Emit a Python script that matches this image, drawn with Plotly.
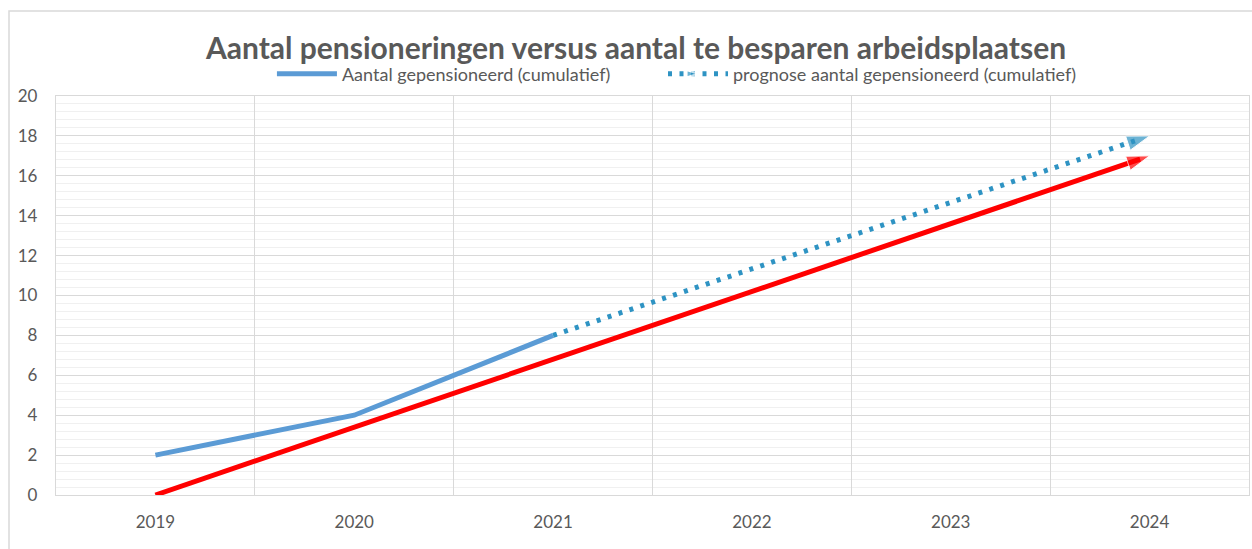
import plotly.graph_objects as go

years = ["2019", "2020", "2021", "2022", "2023", "2024"]

gepensioneerd_jaren = ["2019", "2020", "2021"]
gepensioneerd = [2, 4, 8]

prognose_jaren = ["2021", "2024"]
prognose = [8, 18]

besparen_jaren = ["2019", "2024"]
besparen = [0, 17]

grey_text = "#595959"

fig = go.Figure()

# te besparen arbeidsplaatsen (rode pijl, niet in legenda)
fig.add_trace(go.Scatter(
    x=besparen_jaren, y=besparen, mode="lines+markers",
    line=dict(color="#FF0000", width=5, backoff=10),
    marker=dict(symbol="arrow", angleref="previous", size=[0, 24], color="#FF0000"),
    showlegend=False, hoverinfo="skip",
))

fig.add_trace(go.Scatter(
    x=gepensioneerd_jaren, y=gepensioneerd, mode="lines",
    name="Aantal gepensioneerd (cumulatief)",
    line=dict(color="#5B9BD5", width=5),
    legend="legend",
))

fig.add_trace(go.Scatter(
    x=prognose_jaren, y=prognose, mode="lines+markers",
    name="prognose aantal gepensioneerd (cumulatief)",
    line=dict(color="#2E93C3", width=5, dash="4px,7.5px", backoff=10),
    marker=dict(symbol="arrow", angleref="previous", size=[0, 24], color="#2E93C3"),
    legend="legend2",
))

legend_style = dict(
    orientation="h", xanchor="left", y=1.055, yanchor="middle",
    font=dict(size=18, color=grey_text), bgcolor="rgba(0,0,0,0)",
    itemwidth=60, itemsizing="constant",
)

fig.update_layout(
    width=1252, height=549,
    margin=dict(l=56, r=3, t=96, b=54, autoexpand=False),
    paper_bgcolor="white", plot_bgcolor="white",
    font=dict(family="Lato, Open Sans, sans-serif", color=grey_text, size=17),
    title=dict(
        text="<b>Aantal pensioneringen versus aantal te besparen arbeidsplaatsen</b>",
        x=0.508, xanchor="center", y=0.912, yanchor="middle",
        font=dict(size=30, color=grey_text),
    ),
    legend=dict(x=0.181, **legend_style),
    legend2=dict(x=0.5088, **legend_style),
    shapes=[dict(
        type="rect", xref="paper", yref="paper",
        x0=-0.0394, x1=1.02, y0=-0.2, y1=1.213,
        line=dict(color="#D9D9D9", width=1.5), layer="below",
    )],
)

fig.update_xaxes(
    type="category", categoryorder="array", categoryarray=years,
    range=[-0.5, 5.5],
    tickson="boundaries", showgrid=True, gridcolor="#D9D9D9", gridwidth=1.3,
    showline=True, linecolor="#D9D9D9", linewidth=1.3, mirror=True,
    ticks="", ticklabelstandoff=11, tickfont=dict(size=17, color=grey_text),
    zeroline=False, automargin=False,
)

fig.update_yaxes(
    range=[0, 20], dtick=2, tick0=0,
    showgrid=True, gridcolor="#D9D9D9", gridwidth=1.3,
    minor=dict(dtick=0.4, showgrid=True, gridcolor="#F0F0F0", gridwidth=1),
    showline=True, linecolor="#D9D9D9", linewidth=1.3, mirror=True,
    ticks="", ticklabelstandoff=14, tickfont=dict(size=17, color=grey_text),
    zeroline=False, automargin=False,
)

fig.write_html("out.html", config={"displayModeBar": False},
               post_script="document.body.style.margin = '0px';")
